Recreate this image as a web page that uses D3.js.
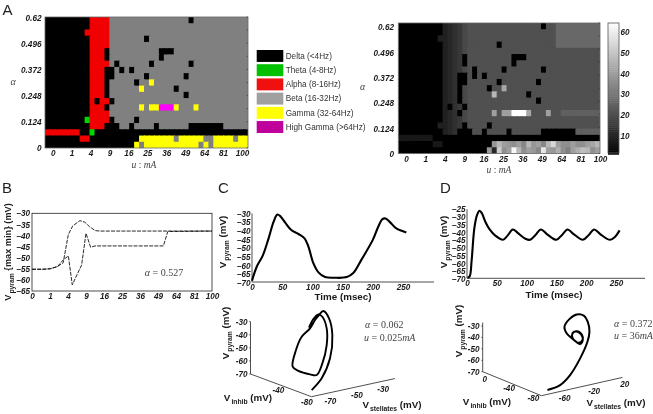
<!DOCTYPE html>
<html><head><meta charset="utf-8">
<script src="https://cdn.jsdelivr.net/npm/d3@7"></script>
<style>
html,body{margin:0;padding:0;background:#fff}
svg{display:block;filter:blur(.4px)}
text{font-family:"Liberation Sans",Arial,sans-serif;fill:#1a1a1a}
.tick text,.tl{font-weight:700;font-style:italic;font-size:8.2px}
.title{font-weight:700;font-size:9.8px}
.serif{font-family:"Liberation Serif",serif;font-size:10px;fill:#444}
</style></head><body>
<script>
// ---------- data ----------
const uTicks=[0,1,4,9,16,25,36,49,64,81,100];
const alphaTicks=[0,0.124,0.248,0.372,0.496,0.62];
const barTicks=[10,20,30,40,50,60];
const bandNames={D:"Delta (<4Hz)",T:"Theta (4-8Hz)",A:"Alpha (8-16Hz)",B:"Beta  (16-32Hz)",G:"Gamma (32-64Hz)",H:"High Gamma (>64Hz)"};
const bandOrder=["D","T","A","B","G","H"];
const bandMap=[
"DDDDDDDDDAAAABBBBBBBBBBBBBBBBDBBBBBBBBBBB",
"DDDDDDDDDAAAABBBBBBBBBBBBBBBBBBBBBBBBBBBB",
"DDDDDDDDAAAAABBBBBBBBBBBBBBBBBBBBBBBBBBBB",
"DDDDDDDDDAAAABBBBBBBDBBBBBBBBBBBBBBBBBBBB",
"DDDDDDDDDAAAABBBBBBBBBBBBBBBBBBBBBBBBBBBB",
"DDDDDDDDDAAADBBBBBBBBBBDDDBBBBBBBBBBBBBBB",
"DDDDDDDDDAAADBBBBBBBBBBDBBBBBBBBBBBBBBBBB",
"DDDDDDDDDAAAABDBBBBBBDBBBBBBBDBBBBBBBBBBB",
"DDDDDDDDDAAADDBDBDBBBBBBBBBBBBBBBBBBBBBBB",
"DDDDDDDDDAAADDBBBBBBDBBBBBBBDBBBBBBBBBBBB",
"DDDDDDDDDAAADBBBBBDBBGBBBBBBBBBBBBBBBBBBB",
"DDDDDDDDDAAADBBBBBBGBBBBBBDBBBBBBBBBBBBBB",
"DDDDDDDDDAAADBBBBBBBBBBBBBBBDBBBBBBBBBBBB",
"DDDDDDDDDADAADBBBBBBBBBBBBBBBBBBBBBBBBBBB",
"DDDDDDDDDAAADBBBBBBGBGGHHHGBBBGBBBBBBBBBB",
"DDDDDDDDDAAAABBBBBBBBBBBBBBBBBBBBBBBBBBBB",
"DDDDDDDDTAAAADBBBBDBBBBBBBBBBBBBBBBBBBBBB",
"DDDDDDDDDAAADDDBBDBBBBDBBBBBBDDDDDDDBBBBB",
"AAAAAAADDTDDDDDDDDDDDDDDDDDDDDDDDDDDDDDDD",
"DDDDDDDAADDDDDDDDDDGGGGGGGBGGGGGBBGGGGBGG",
"DDDDDDDDDDDDDDDDDDGBGGGGGGGGGGGBGBGGGGGGG"];
// peak frequency map: each base-36 digit is a value of digit*2 (Hz)
const freqMap=[
"00000000045679aaaaaaaaaaaaaaa0aaddddddddd",
"00000000045679aaaaaaaaaaaaaaaaaaddddddddd",
"00000000445679aaaaaaaaaaaaaaaaaaddddddddd",
"00000000045679aaaaaa0aaaaaaaaaaaddddddddd",
"00000000045679aaaaaaaaaaaaaaaaaaaaaaaaaaa",
"00000000045670aaaaaaaaa000aaaaaaaaaaaaaaa",
"00000000045670aaaaaaaaa0aaaaaaaaaaaaaaaaa",
"00000000045679a0aaaaa0aaaaaaa0aaaaaaaaaaa",
"00000000045600a0a0aaaaaaaaaaaaaaaaaaaaaaa",
"00000000045600aaaaaa0aaaaaaa0aaaaaaaaaaaa",
"00000000045609aaaa0aalaaaaaaaaaaaaaaaaaaa",
"00000000045609aaaaanaaaaaa0aaaaaaaaaaaaaa",
"00000000045609aaaaaaaaaaaaaa0aaaaaaaaaaaa",
"00000000040670aaaaaaaaaaaaaaaaaaaaaaaaaaa",
"00000000045609aaaaakakkzzzlaaakaacccccccc",
"00000000045679aaaaaaaaaaaaaaaaaaaaaaaaaaa",
"00000000445670aaaa0aaaaaaaaaaaaaaaaaaaaaa",
"000000000456000aa0aaaa0aaaaaa0000000ccccc",
"33333330000000000000000000000000000000000",
"0000000330000000000jnkjikhnjkhnrkiikiikln",
"000000000000000000j5qikvnikjhtkjmigkmonik"];
// panel B: envelope of Vpyram vs u
const envU =[0,0.36,1,2,3,4.08,5.1,7.1,8.6,10.2,12.3,14.3,30,60,100];
const envMax=[-55.2,-55.2,-55,-54,-52.3,-39.5,-35.7,-33.3,-34,-36,-37.8,-38,-38,-38,-38];
const minU =[0,0.36,1,2,3,4.08,5,7.6,9,10.6,12.25,30,53.3,56.9,100];
const envMin=[-55.2,-55.2,-55,-54,-51,-49.2,-62.2,-53.3,-39,-45.3,-44.7,-44.7,-44.7,-38.2,-38];
// panel C / D time courses
const tC=[0,8,17.6,27.5,35.7,42,46.7,55,65,77,87,93.4,101.6,110,121,137,157,167.6,181,200,209,216,221,228,239,255.5];
const vC=[-68.7,-60.5,-54.4,-44.3,-34.8,-30.6,-31.5,-35.3,-39.5,-41.8,-44.3,-49,-58.6,-63.9,-66.6,-67,-66.6,-64.3,-56.7,-45.2,-37.6,-33.2,-32.9,-34.8,-38.6,-40.9];
const tD=[1,4.5,7.8,12.3,16.8,21.2,25,30.7,38,47.5,60.3,68,77,85,98,106,114.5,124,134,150,159,168.7,179,194.4,204,213.4,223.5,240,248.6,256];
const vD=[-69.2,-68.3,-57.9,-37.3,-28.7,-25.9,-27.6,-33,-38,-42,-44.7,-42,-38,-40.2,-44,-44.7,-41.7,-38,-41,-44.7,-41.7,-38,-41,-44.7,-41.7,-38,-41,-44.7,-42.7,-38.6];
// phase trajectories (Vinhib held at the mid plane of the 3-D box)
const sC=[-57,-49.5,-43.25,-41.5,-44,-48.25,-51.5,-54.5,-58.25,-64.5,-68.75,-71.25,-67,-58.25,-53.25,-49,-45.75,-45.75,-49,-52,-55.75,-59];
const pC=[-78.7,-71.4,-57.5,-40.1,-26.8,-20.3,-22.6,-25.8,-31.3,-36.3,-45.5,-57.7,-61.9,-66.4,-68,-60.1,-46.8,-34.1,-24.5,-22,-24.7,-30.6];
const sD=[-37.9,-21,-7.7,5.7,15.4,18.1,15.9,11,1.2,-8.6,-15.2,-12.1,-3.2,5.7,9.2,7.9,1.2,-4.6,-4.1,3.4,8.8,7,0.3];
const pD=[-82.5,-80.7,-73.9,-61.3,-48.2,-39.9,-30.8,-24.8,-22.2,-24.8,-30.5,-36.8,-43.4,-48.8,-45.8,-40.7,-36.8,-38,-42.4,-47.3,-45.7,-40.5,-36.6];
const vmTicks=[-30,-35,-40,-45,-50,-55,-60,-65];
const vmC=[-30,-35,-40,-45,-50,-55,-60,-65,-70];
const vmD=[-25,-30,-35,-40,-45,-50,-55,-60,-65,-70];
const timeTicks=[0,50,100,150,200,250];

// ---------- helpers ----------
const svg=d3.select("body").append("svg").attr("width",653).attr("height",414);
const bandColor=d3.scaleOrdinal(bandOrder,["#000","#00d800","#f00000","#808080","#ffff00","#ff00ff"]);
const legendColor=d3.scaleOrdinal(bandOrder,["#000","#00c000","#f01010","#a0a0a0","#ffff00","#c0009a"]);
const gray=d3.scaleLinear([1,65],["#000","#fff"]).clamp(true);
const fmtA=d=>d===0?"0":String(d);
function cleanAxis(g){g.select(".domain").remove();g.selectAll(".tick line").remove();}
function sub(x,y,rot,main,subt,rest,size){
  const t=svg.append("text").attr("class","title").attr("text-anchor","middle")
    .attr("transform",`translate(${x},${y})`+(rot?` rotate(${rot})`:""));
  if(size)t.style("font-size",size+"px");
  t.append("tspan").text(main);
  t.append("tspan").attr("dy",2.5).attr("dx",1).style("font-size","6.8px").text(subt);
  t.append("tspan").attr("dy",-2.5).text(rest);
  return t;
}
let clipId=0;
function heat(opts){
  const x=d3.scaleBand(d3.range(41),[opts.x0,opts.x1]);
  const y=d3.scaleBand(d3.range(21),[opts.y0,opts.y1]);
  const id="clip"+(clipId++);
  svg.append("clipPath").attr("id",id).append("rect").attr("x",opts.x0).attr("y",opts.y0).attr("width",opts.x1-opts.x0).attr("height",opts.y1-opts.y0);
  const g=svg.append("g").attr("clip-path",`url(#${id})`);
  opts.rows.forEach((row,r)=>{
    g.selectAll(null).data(row.split("")).join("rect")
      .attr("x",(d,c)=>x(c)).attr("y",y(r))
      .attr("width",x.bandwidth()+1).attr("height",y.bandwidth()+1)
      .attr("fill",opts.color);
  });
  svg.append("rect").attr("x",opts.x0).attr("y",opts.y0).attr("width",opts.x1-opts.x0).attr("height",opts.y1-opts.y0)
    .attr("fill","none").attr("stroke","#666").attr("stroke-width",.8);
  // inward ticks on the right
  const ty=d3.scaleLinear([0,0.62],[opts.y1,opts.y0]);
  svg.append("g").selectAll("line").data(d3.range(0,11)).join("line")
    .attr("x1",opts.x1-1.5).attr("x2",opts.x1).attr("y1",d=>ty(d*0.062)).attr("y2",d=>ty(d*0.062)).attr("stroke","#333").attr("stroke-width",.6);
  const su=d3.scaleSqrt([0,100],opts.lx);
  svg.append("g").attr("transform",`translate(0,${opts.ly})`).call(d3.axisBottom(su).tickValues(uTicks).tickFormat(d3.format("d")).tickSize(0).tickPadding(0)).call(cleanAxis);
  const sa=d3.scaleLinear([0,0.62],opts.la);
  svg.append("g").attr("transform",`translate(${opts.lax},0)`).call(d3.axisLeft(sa).tickValues(alphaTicks).tickFormat(fmtA).tickSize(0).tickPadding(0)).call(cleanAxis);
  const ul=svg.append("text").attr("class","serif").attr("text-anchor","middle").attr("x",opts.ux).attr("y",opts.uy).style("font-size","9.5px");
  ul.append("tspan").style("font-style","italic").text("u");ul.append("tspan").text(" : ");ul.append("tspan").style("font-style","italic").text("mA");
  svg.append("text").attr("class","serif").attr("x",opts.ax).attr("y",opts.ay).attr("text-anchor","middle").style("font-size","10px").style("font-style","italic").text("α");
}
[["A",2.5,14.5],["B",2,193],["C",218,193],["D",440,193]].forEach(([s,x,y])=>svg.append("text").attr("x",x).attr("y",y).style("font-size","15px").style("fill","#222").text(s));

// ---------- panel A ----------
heat({rows:bandMap,color:d=>bandColor(d),x0:45,x1:248,y0:17,y1:148,lx:[52.7,242],ly:150,la:[147.5,17.5],lax:41.5,ux:144,uy:168,ax:13,ay:85});
heat({rows:freqMap,color:d=>gray(parseInt(d,36)*2+1),x0:398.3,x1:600,y0:23,y1:153.5,lx:[406,600],ly:156,la:[154,27],lax:394,ux:499,uy:173,ax:362.7,ay:90});
// legend
const legY=d3.scaleBand(bandOrder,[50,133]).paddingInner(.16);
svg.append("g").selectAll("rect").data(bandOrder).join("rect")
  .attr("x",256.7).attr("y",d=>legY(d)).attr("width",26.6).attr("height",legY.bandwidth()).attr("fill",d=>legendColor(d));
svg.append("g").selectAll("text").data(bandOrder).join("text")
  .attr("x",285.7).attr("y",d=>legY(d)+legY.bandwidth()/2+2.8).style("font-size","8.2px").style("fill","#333").text(d=>bandNames[d]);
// colour bar
const barY=d3.scaleLinear([1.6,64.3],[153,23]);
svg.append("g").selectAll("rect").data(d3.range(2,65)).join("rect")
  .attr("x",608).attr("width",11).attr("y",d=>barY(d)).attr("height",(barY(1)-barY(2))+.5).attr("fill",d=>gray(d));
svg.append("rect").attr("x",608).attr("y",23).attr("width",11).attr("height",130).attr("fill","none").attr("stroke","#555").attr("stroke-width",.8);
svg.append("g").attr("transform","translate(620.5,0)").call(d3.axisRight(barY).tickValues(barTicks).tickFormat(d3.format("d")).tickSize(0).tickPadding(0)).call(cleanAxis);

// ---------- panel B ----------
const bx=d3.scaleSqrt([0,100],[32,212]),by=d3.scaleLinear([-30,-65],[213.3,291]);
svg.append("rect").attr("x",32).attr("y",213.3).attr("width",180).attr("height",77.7).attr("fill","none").attr("stroke","#222").attr("stroke-width",.8);
svg.append("g").attr("transform","translate(30,0)").call(d3.axisLeft(by).tickValues(vmTicks).tickFormat(d3.format("d")).tickSize(0).tickPadding(0)).call(cleanAxis);
svg.append("g").attr("transform","translate(0,293)").call(d3.axisBottom(bx).tickValues(uTicks).tickFormat(d3.format("d")).tickSize(0).tickPadding(0)).call(cleanAxis);
const lineB=(us,vs)=>d3.line().x((d,i)=>bx(us[i])).y(d=>by(d)).curve(d3.curveLinear)(vs);
[[envU,envMax],[minU,envMin]].forEach(([u,v])=>svg.append("path").attr("d",lineB(u,v)).attr("fill","none").attr("stroke","#111").attr("stroke-width",.9).attr("stroke-dasharray","4 1.2"));
{const t=svg.append("text").attr("class","serif").attr("text-anchor","middle").attr("x",164).attr("y",276);
 t.append("tspan").style("font-style","italic").text("α");t.append("tspan").text(" = 0.527");}
sub(11,252,-90,"V","pyram"," {max min} (mV)",9.2);

// ---------- panels C and D: time course ----------
function course(o){
  const x=d3.scaleLinear([0,250],o.xr),y=d3.scaleLinear(o.yd,o.yr);
  svg.append("line").attr("x1",o.xr[0]).attr("x2",o.xr[0]).attr("y1",o.yr[0]).attr("y2",o.base).attr("stroke","#222").attr("stroke-width",.8);
  svg.append("line").attr("x1",o.xr[0]).attr("x2",o.xEnd).attr("y1",o.base).attr("y2",o.base).attr("stroke","#222").attr("stroke-width",.8);
  svg.append("g").attr("transform",`translate(${o.xr[0]-1.5},0)`).call(d3.axisLeft(y).tickValues(o.yt).tickFormat(d3.format("d")).tickSize(0).tickPadding(0)).call(cleanAxis);
  svg.append("g").attr("transform",`translate(0,${o.tly})`).call(d3.axisBottom(x).tickValues(timeTicks).tickFormat(d3.format("d")).tickSize(0).tickPadding(0)).call(cleanAxis);
  svg.append("path").attr("d",d3.line().x((d,i)=>x(o.t[i])).y(d=>y(d)).curve(d3.curveCatmullRom)(o.v)).attr("fill","none").attr("stroke","#000").attr("stroke-width",2.1);
  svg.append("text").attr("class","title").attr("text-anchor","middle").attr("x",o.tx).attr("y",o.ty).text("Time (msec)");
  sub(o.vx,o.vy,-90,"V","pyram"," (mV)");
}
course({t:tC,v:vC,xr:[252,403],yd:[-30,-70],yr:[213.5,283],yt:vmC,base:282,xEnd:434,tly:284.5,tx:343,ty:300,vx:226,vy:242});
course({t:tD,v:vD,xr:[467,616],yd:[-25,-70],yr:[209.3,279],yt:vmD,base:278.3,xEnd:645,tly:280.5,tx:554,ty:297.5,vx:447,vy:242});

// ---------- 3-D phase plots ----------
function phase(o){
  const sx=d3.scaleLinear(o.sd,[0,o.sw]),sy=d3.scaleLinear(o.sd,[0,-o.sh]);
  const ix=d3.scaleLinear([0,-80],[0,o.iw]),iy=d3.scaleLinear([0,-80],[0,o.ih]);
  const pz=d3.scaleLinear([-70,-30],[0,-o.ph]);
  const P=(s,i,p)=>[o.ox+sx(s)+ix(i),o.oy+sy(s)+iy(i)+pz(p)];
  const seg=(a,b)=>svg.append("line").attr("x1",a[0]).attr("y1",a[1]).attr("x2",b[0]).attr("y2",b[1]).attr("stroke","#222").attr("stroke-width",.8);
  seg(P(o.sd[0],0,-70),P(o.sd[0],0,o.pTop));
  seg(P(o.sd[0],0,-70),P(o.sd[0],-80,-70));
  seg(P(o.sd[0],-80,-70),P(o.sEnd,-80,-70));
  const a=P(o.sd[0],0,-70)[0];
  const yz=p=>P(o.sd[0],0,p)[1];
  [-30,-40,-50,-60,-70].forEach(v=>{
    svg.append("text").attr("class","tl").attr("text-anchor","end").attr("x",a-3).attr("y",yz(v)+3).text(v);
    svg.append("line").attr("x1",a-1.5).attr("x2",a).attr("y1",yz(v)).attr("y2",yz(v)).attr("stroke","#222").attr("stroke-width",.6);
  });
  o.iLabels.forEach(([v,dx,dy])=>{const q=P(o.sd[0],v,-70);svg.append("text").attr("class","tl").attr("text-anchor","middle").attr("x",q[0]+dx).attr("y",q[1]+dy).text(v);});
  o.sLabels.forEach(([v,dx,dy])=>{const q=P(v,-80,-70);svg.append("text").attr("class","tl").attr("text-anchor","middle").attr("x",q[0]+dx).attr("y",q[1]+dy).text(v);});
  const pts=o.s.map((s,i)=>P(s,-40,o.p[i]));
  svg.append("path").attr("d",d3.line().curve(d3.curveCatmullRom)(pts)).attr("fill","none").attr("stroke","#000").attr("stroke-width",o.w).attr("stroke-linejoin","round");
  sub(o.vp[0],o.vp[1],-90,"V","pyram"," (mV)");
  sub(o.vi[0],o.vi[1],0,"V","inhib"," (mV)");
  sub(o.vs[0],o.vs[1],0,"V","stellates"," (mV)");
  o.notes.forEach(n=>{
    const t=svg.append("text").attr("class","serif").attr("x",n[0]).attr("y",n[1]);
    t.append("tspan").style("font-style","italic").text(n[2]);t.append("tspan").text(n[3]);
    if(n[4])t.append("tspan").style("font-style","italic").text(n[4]);
  });
}
phase({s:sC,p:pC,sd:[-80,-30],sw:66.7,sh:14.5,iw:61,ih:22.7,ph:52.4,ox:250.5,oy:374,pTop:-30,sEnd:-17.5,w:1.9,
  iLabels:[[-40,-2.5,7.5],[-80,-4.5,8.5]],sLabels:[[-70,5.5,10],[-50,5.5,10],[-30,5,10]],
  vp:[229,333],vi:[248,401],vs:[392,408],
  notes:[[365,328,"α"," = 0.062"],[364,341,"u"," = 0.025","mA"]]});
phase({s:sD,p:pD,sd:[-85,-20],sw:48.8,sh:11,iw:58.7,ih:24,ph:45.7,ox:482.7,oy:371.7,pTop:-27,sEnd:23,w:2,
  iLabels:[[0,2,10.5],[-40,-3,7.5],[-80,-8,5.5]],sLabels:[[-60,4.5,9.5],[-20,4,9.5],[20,4.5,9.5]],
  vp:[462,331],vi:[487,405],vs:[616,406],
  notes:[[614,327,"α"," = 0.372"],[614,339,"u"," = 36","mA"]]});
</script></body></html>
